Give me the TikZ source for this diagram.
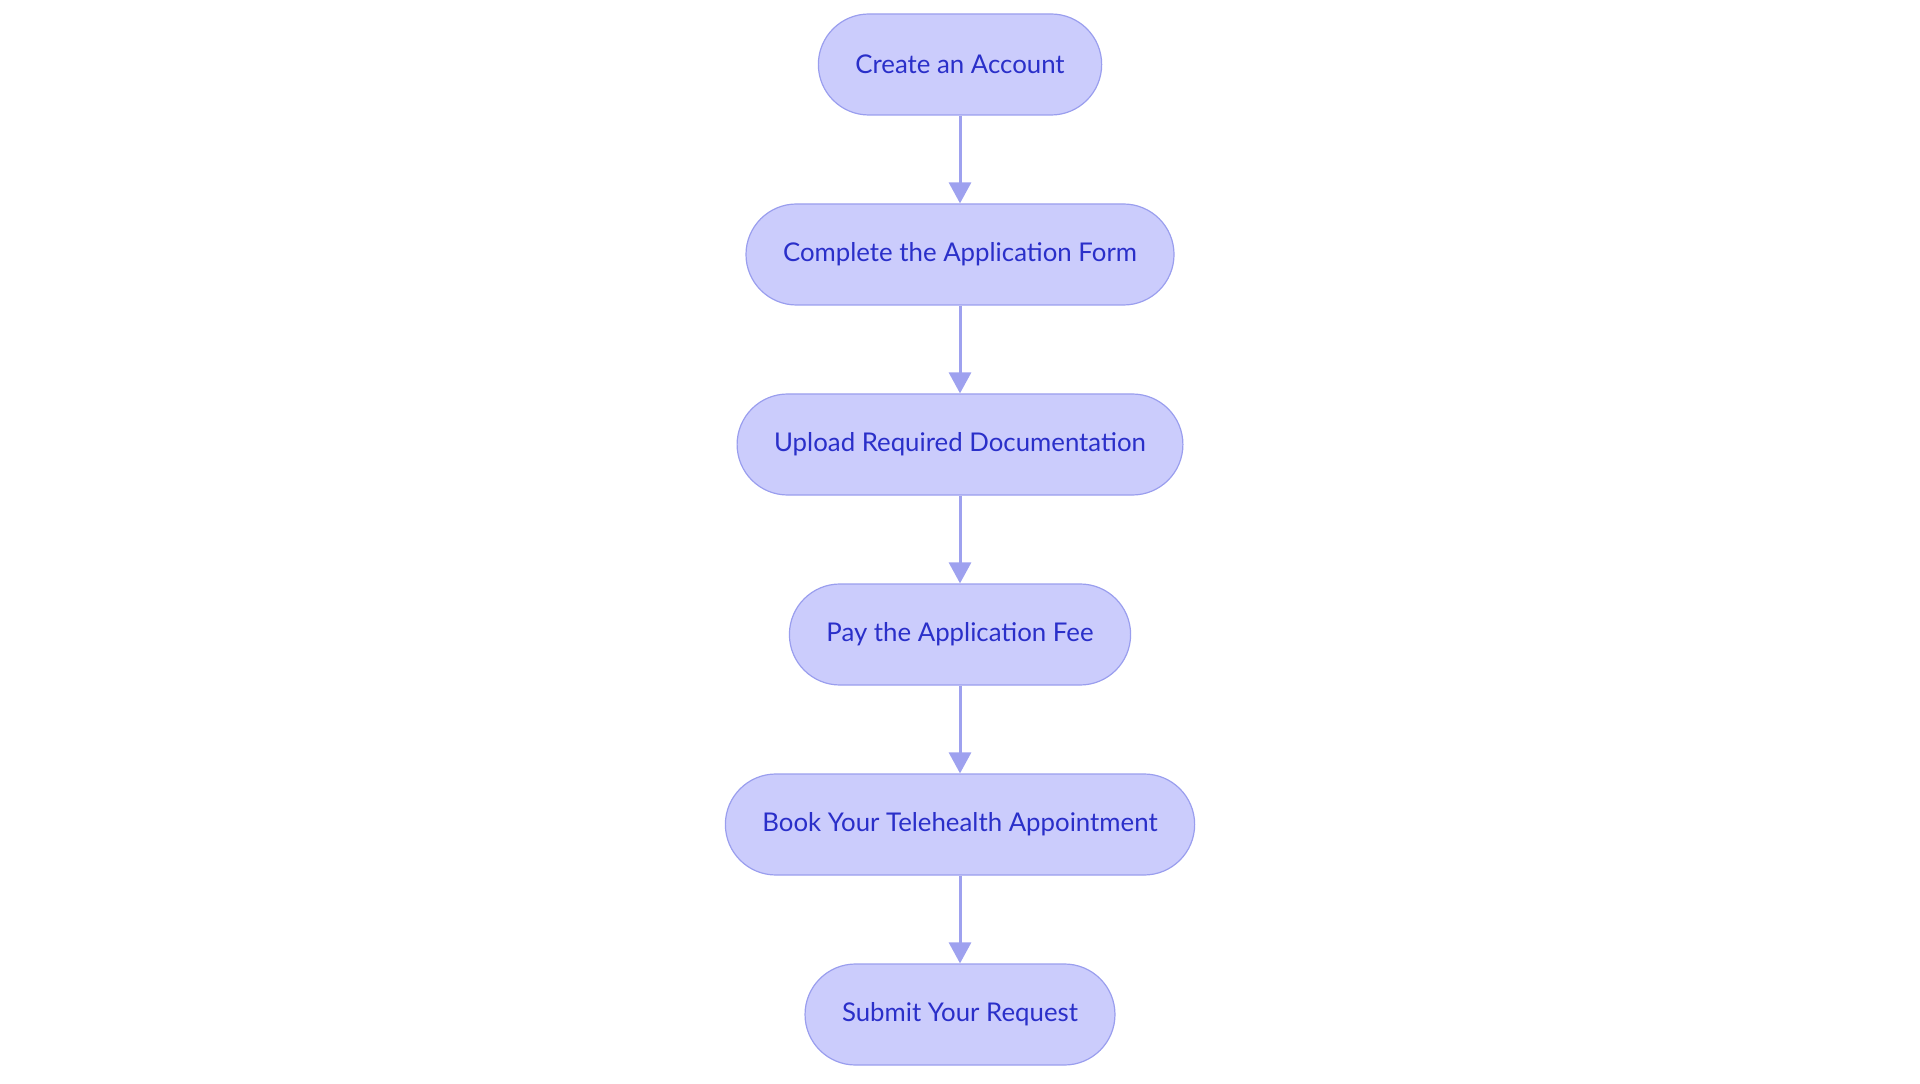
\documentclass[tikz,border=0pt]{standalone}
\usepackage{fontspec}
\setmainfont{Lato}
\usetikzlibrary{positioning,arrows.meta}
\definecolor{boxfill}{HTML}{CBCCFC}
\definecolor{boxline}{HTML}{9A9EEE}
\definecolor{boxtext}{HTML}{2A2FC9}
\definecolor{linkcol}{HTML}{9EA1EF}
\begin{document}
\begin{tikzpicture}
        [x=0.5pt,y=0.5pt,
         stage/.style={draw=boxline,line width=0.6pt,fill=boxfill,text=boxtext,
           rounded corners=25.25pt,minimum height=50.5pt,inner xsep=18.5pt,
           font=\fontsize{12.9}{16}\selectfont},
         link/.style={draw=linkcol,line width=1.5pt,-{Triangle[length=10.5pt,width=11pt]}},
         node distance=43.9pt]
        \useasboundingbox (0,0) rectangle (1920,1083);

        \node[stage] (acct) at (960,1018.5) {Create an Account};
        \node[stage,below=of acct] (form) {Complete the Application Form};
        \node[stage,below=of form] (docs) {Upload Required Documentation};
        \node[stage,below=of docs] (fee) {Pay the Application Fee};
        \node[stage,below=of fee] (appt) {Book Your Telehealth Appointment};
        \node[stage,below=of appt] (req) {Submit Your Request};

        \draw[link] (acct) -- (form);
        \draw[link] (form) -- (docs);
        \draw[link] (docs) -- (fee);
        \draw[link] (fee) -- (appt);
        \draw[link] (appt) -- (req);
      \end{tikzpicture}
\end{document}
